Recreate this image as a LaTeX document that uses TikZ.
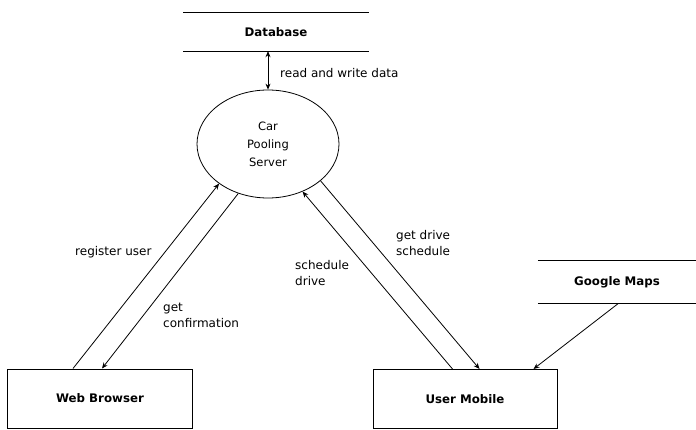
\documentclass[tikz,border=0pt]{standalone}
\usepackage{fontspec}
\setmainfont{DejaVu Sans}
\usetikzlibrary{shapes.geometric,arrows.meta,positioning}

\tikzset{
  entity/.style={draw,line width=1pt,minimum width=185pt,minimum height=59pt,font=\fontsize{11.8}{14}\selectfont\bfseries},
  store/.style={minimum width=185pt,minimum height=38pt,font=\fontsize{11.8}{14}\selectfont\bfseries},
  process/.style={draw,ellipse,line width=0.8pt,minimum width=142pt,minimum height=108pt,inner sep=0pt,align=center,font=\fontsize{11.5}{18}\selectfont},
  flow/.style={line width=0.8pt,-{Stealth[length=6pt,width=5pt]}},
  lbl/.style={font=\fontsize{12}{16}\selectfont,align=left,anchor=west,inner sep=0pt}
}

\begin{document}
\begin{tikzpicture}[x=1pt,y=-1pt]
 \useasboundingbox (0,0) rectangle (696,430);

 % nodes
 \node (srv) [process] at (268,144) {Car\\Pooling\\Server};
 \node (db) [store] at (276,32) {Database};
 \node (gm) [store,minimum width=158pt,minimum height=43pt] at (617,282) {Google Maps};
 \node (wb) [entity] at (100,398.5) {Web Browser};
 \node (um) [entity,minimum width=184pt] at (465,399) {User Mobile};

 % store lines
 \foreach \s in {db,gm} {
  \draw[line width=1pt] (\s.north west) -- (\s.north east);
  \draw[line width=1pt] (\s.south west) -- (\s.south east);
 };

 % flows
 \draw[flow,{Stealth[length=6pt,width=5pt]}-{Stealth[length=6pt,width=5pt]}] (srv.north) -- (srv.north |- db.south);
 \draw[flow] ([xshift=66pt]wb.north west) -- (srv.219);
 \draw[flow] (srv.239) -- ([xshift=95pt]wb.north west);
 \draw[flow] ([xshift=80pt]um.north west) -- (srv.-54);
 \draw[flow] (srv.-35) -- ([xshift=107pt]um.north west);
 \draw[flow] ([xshift=1pt]gm.south) -- ([xshift=161pt]um.north west);

 % labels
 \node (l0) [lbl] at (280,73) {read and write data};
 \node (l1) [lbl] at (75,252) {register user};
 \node (l2) [lbl] at (163,315) {get\\confirmation};
 \node (l3) [lbl] at (295,273) {schedule\\drive};
 \node (l4) [lbl] at (396,243) {get drive\\schedule};
\end{tikzpicture}
\end{document}
